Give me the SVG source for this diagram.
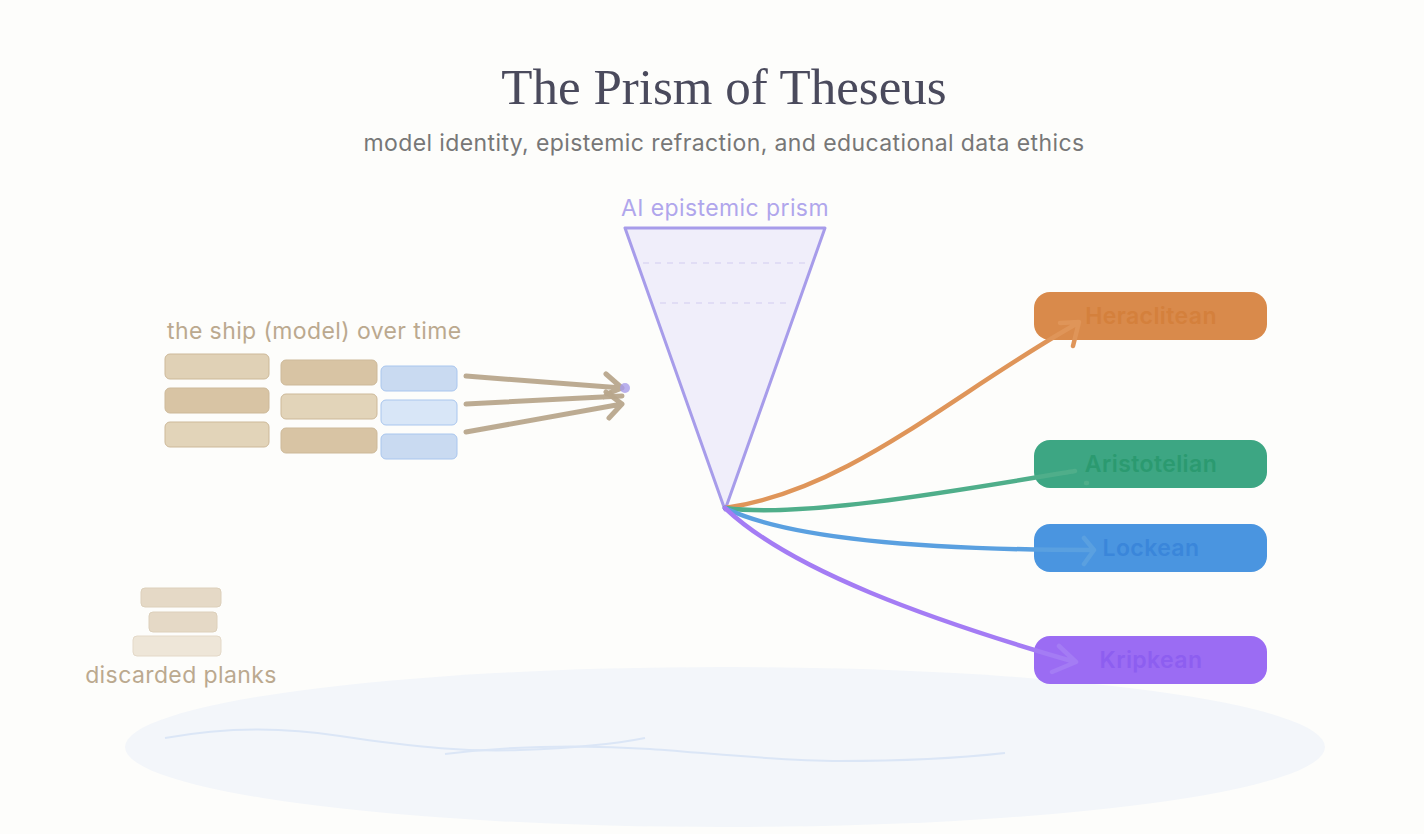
<svg xmlns="http://www.w3.org/2000/svg" width="1424" height="834" viewBox="0 0 1424 834">
<style>
.t{font-family:"Liberation Serif",serif;font-size:51px;fill:#4a4a5c}
.s{font-family:Inter,"Liberation Sans",sans-serif;fill:#777;font-size:23px;letter-spacing:0.4px}
.lab{font-family:Inter,"Liberation Sans",sans-serif;font-size:23px;letter-spacing:0.4px}
.nl{font-family:Inter,"Liberation Sans",sans-serif;font-size:23px;letter-spacing:0.4px;font-weight:600;text-anchor:middle}
.pk{stroke:#cdb999;stroke-width:1}
.bp{stroke:#a9c6ee;stroke-width:1}
.ship{fill:none;stroke:#b8a68c;stroke-width:5;stroke-linecap:round;stroke-linejoin:round;opacity:.95}
.ray{fill:none;stroke-width:4.5;stroke-linecap:round;stroke-linejoin:round}
</style>
<rect width="1424" height="834" fill="#fdfdfb"/>
<g id="water">
<ellipse cx="725" cy="747" rx="600" ry="80" fill="#f3f6fa"/>
<path d="M165,738 C230,726 290,728 340,736 C420,748 470,752 520,750 C575,748 610,745 645,738" fill="none" stroke="#dbe6f6" stroke-width="2"/>
<path d="M445,754 C520,745 590,745 650,749 C720,754 780,761 840,761 C910,761 960,758 1005,753" fill="none" stroke="#dbe6f6" stroke-width="2"/>
</g>
<g id="title">
<text class="t" x="724" y="104" text-anchor="middle">The Prism of Theseus</text>
<text class="s" x="724" y="151" text-anchor="middle">model identity, epistemic refraction, and educational data ethics</text>
</g>
<g id="ship">
<text class="lab" x="167" y="339" fill="#bba98f">the ship (model) over time</text>
<rect class="pk" x="165" y="354" width="104" height="25" rx="5" fill="#e0d1b6"/>
<rect class="pk" x="165" y="388" width="104" height="25" rx="5" fill="#d8c4a4"/>
<rect class="pk" x="165" y="422" width="104" height="25" rx="5" fill="#e2d4b9"/>
<rect class="pk" x="281" y="360" width="96" height="25" rx="5" fill="#d8c4a4"/>
<rect class="pk" x="281" y="394" width="96" height="25" rx="5" fill="#e2d4b9"/>
<rect class="pk" x="281" y="428" width="96" height="25" rx="5" fill="#d8c4a4"/>
<rect class="bp" x="381" y="366" width="76" height="25" rx="5" fill="#c9daf1"/>
<rect class="bp" x="381" y="400" width="76" height="25" rx="5" fill="#d8e6f7"/>
<rect class="bp" x="381" y="434" width="76" height="25" rx="5" fill="#c9daf1"/>
</g>
<g id="discarded">
<rect x="141" y="588" width="80" height="19" rx="4" fill="#e5d9c6" stroke="#ddd0bb"/>
<rect x="149" y="612" width="68" height="20" rx="4" fill="#e5d9c6" stroke="#ddd0bb"/>
<rect x="133" y="636" width="88" height="20" rx="4" fill="#eee6d8" stroke="#e4d9c8"/>
<text class="lab" x="181" y="683" text-anchor="middle" fill="#bba98f">discarded planks</text>
</g>
<g id="prism">
<text class="lab" x="725" y="216" text-anchor="middle" fill="#b0a6ec">AI epistemic prism</text>
<polygon points="625,228 825,228 725,510" fill="#f0eefa" stroke="#a79cea" stroke-width="3" stroke-linejoin="round"/>
<line x1="643" y1="263" x2="807" y2="263" stroke="#dcd8f4" stroke-width="1.5" stroke-dasharray="6 6"/>
<line x1="660" y1="303" x2="790" y2="303" stroke="#dcd8f4" stroke-width="1.5" stroke-dasharray="6 6"/>
</g>
<g id="n-heraclitean">
<rect x="1034" y="292" width="233" height="48" rx="16" fill="#d98a4b"/>
<text class="nl" x="1151" y="324" fill="#d4803c">Heraclitean</text>
</g>
<g id="n-aristotelian">
<rect x="1034" y="440" width="233" height="48" rx="16" fill="#3da683"/>
<text class="nl" x="1151" y="472" fill="#2b9a70">Aristotelian</text>
</g>
<g id="n-lockean">
<rect x="1034" y="524" width="233" height="48" rx="16" fill="#4a95e0"/>
<text class="nl" x="1151" y="556" fill="#3a86da">Lockean</text>
</g>
<g id="n-kripkean">
<rect x="1034" y="636" width="233" height="48" rx="16" fill="#9b6cf3"/>
<text class="nl" x="1151" y="668" fill="#8d5ef0">Kripkean</text>
</g>
<g id="connectors">
<path class="ship" d="M466,376 L622,388 M606,374 L622,388 L607,394"/>
<path class="ship" d="M466,404 L622,396 M610,393 L604,397"/>
<path class="ship" d="M466,432 L622,404 M606,392 L622,404 L609,418"/>
<circle cx="625" cy="388" r="5" fill="#a79cea" opacity=".8"/>
<path class="ray" stroke="#df9559" d="M725,508 C850,490 950,395 1078,323 M1060,323 L1079,322 L1073,346"/>
<path class="ray" stroke="#4fae8a" d="M725,508 C800,518 950,492 1075,471 M1086,483 L1087,483"/>
<path class="ray" stroke="#5aa0e0" d="M725,508 C790,540 930,550 1094,550 M1084,538 L1094,550 L1084,564"/>
<path class="ray" stroke="#a47cf4" d="M725,508 C790,570 930,620 1075,662 M1059,646 L1076,662 L1052,672"/>
</g>
</svg>
